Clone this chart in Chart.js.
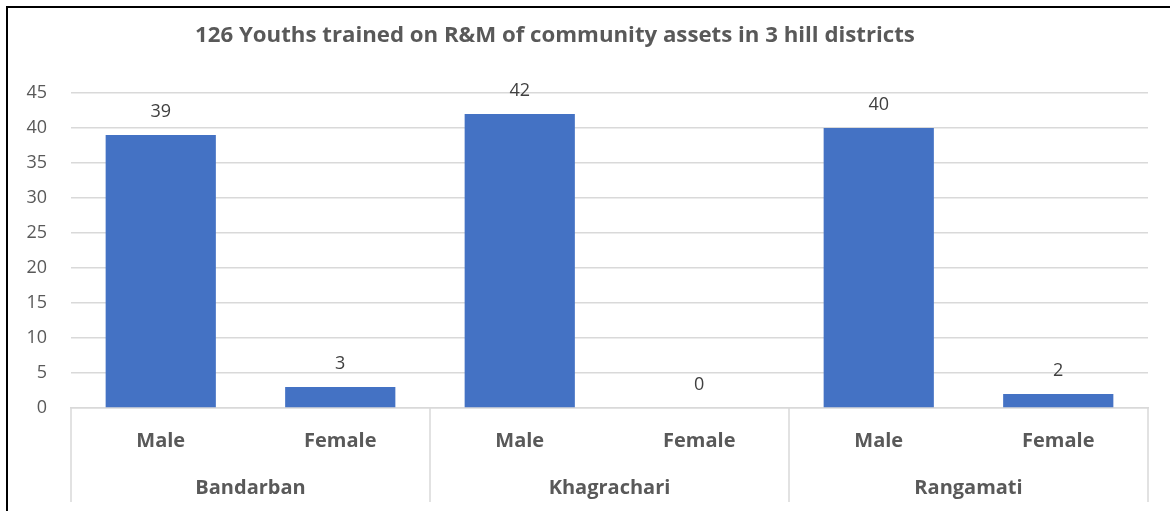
<!DOCTYPE html>
<html>
<head>
<meta charset="utf-8">
<script src="https://cdn.jsdelivr.net/npm/chart.js@4/dist/chart.umd.min.js"></script>
<style>
  html, body { margin: 0; padding: 0; background: #fff; }
  #wrap { position: relative; width: 1170px; height: 511px; overflow: hidden; }
  #frame { position: absolute; left: 6px; top: 6px; width: 1200px; height: 600px;
           border-left: 2px solid #000; border-top: 2px solid #000; pointer-events: none; }
  canvas { position: absolute; left: 0; top: 0; }
</style>
</head>
<body>
<div id="wrap">
  <canvas id="c" width="1170" height="511"></canvas>
  <div id="frame"></div>
</div>
<script>
const titleText = "126 Youths trained on R&M of community assets in 3 hill districts";
const genders = ["Male", "Female", "Male", "Female", "Male", "Female"];
const districts = ["Bandarban", "Khagrachari", "Rangamati"];
const trained = [39, 3, 42, 0, 40, 2];
const yTicks = [0, 5, 10, 15, 20, 25, 30, 35, 40, 45];

const FONT = "'Open Sans', 'Noto Sans', sans-serif";
const GREY = "#595959";
const GRID = "#d9d9d9";

const titlePlugin = {
  id: 'customTitle',
  afterDraw(chart) {
    const ctx = chart.ctx;
    ctx.save();
    let size = 20;
    ctx.font = "bold " + size + "px " + FONT;
    const w = ctx.measureText(titleText).width;
    size = Math.max(14, Math.min(24, size * 720 / w));
    ctx.font = "bold " + size.toFixed(2) + "px " + FONT;
    ctx.fillStyle = GREY;
    ctx.textAlign = "center";
    ctx.textBaseline = "alphabetic";
    ctx.fillText(titleText, 555, 42);
    ctx.restore();
  }
};

const valueLabels = {
  id: 'valueLabels',
  afterDatasetsDraw(chart) {
    const ctx = chart.ctx;
    const meta = chart.getDatasetMeta(0);
    ctx.save();
    ctx.font = "18px " + FONT;
    ctx.fillStyle = "#404040";
    ctx.textAlign = "center";
    ctx.textBaseline = "alphabetic";
    meta.data.forEach((bar, i) => {
      ctx.fillText(String(chart.data.datasets[0].data[i]), bar.x, bar.y - 18);
    });
    ctx.restore();
  }
};

const separators = {
  id: 'separators',
  afterDraw(chart) {
    const x = chart.scales.x;
    const ctx = chart.ctx;
    const half = (x.getPixelForTick(1) - x.getPixelForTick(0)) / 2;
    const n = genders.length;
    ctx.save();
    ctx.strokeStyle = GRID;
    ctx.lineWidth = 1.5;
    for (let i = 0; i <= n; i += 2) {
      const px = i < n ? x.getPixelForTick(i) - half : x.getPixelForTick(n - 1) + half;
      ctx.beginPath();
      ctx.moveTo(px, chart.chartArea.bottom);
      ctx.lineTo(px, 502);
      ctx.stroke();
    }
    ctx.restore();
  }
};

new Chart(document.getElementById('c'), {
  type: 'bar',
  data: {
    labels: genders,
    datasets: [{
      data: trained,
      backgroundColor: "#4472C4",
      borderWidth: 0,
      barPercentage: 0.614,
      categoryPercentage: 1.0
    }]
  },
  options: {
    responsive: false,
    animation: false,
    devicePixelRatio: 1,
    layout: { padding: { top: 93, right: 22, bottom: 0, left: 0 } },
    plugins: { legend: { display: false }, title: { display: false }, tooltip: { enabled: false } },
    scales: {
      y: {
        min: 0, max: 45,
        afterFit(s) { s.width = 71; },
        afterBuildTicks(s) { s.ticks = yTicks.map(v => ({ value: v })); },
        grid: { color: GRID, lineWidth: 1.5, drawTicks: false },
        border: { display: false },
        ticks: { font: { family: FONT, size: 18 }, color: GREY, padding: 24 }
      },
      x: {
        type: 'category',
        position: 'bottom',
        offset: true,
        afterFit(s) { s.height = 45; },
        grid: { display: false },
        border: { display: true, color: GRID, width: 1.5 },
        ticks: { font: { family: FONT, size: 20, weight: 'bold' }, color: GREY, padding: 13, maxRotation: 0, autoSkip: false }
      },
      x2: {
        type: 'category',
        position: 'bottom',
        labels: districts,
        offset: true,
        afterFit(s) { s.height = 58; },
        grid: { display: false },
        border: { display: false },
        ticks: { font: { family: FONT, size: 20, weight: 'bold' }, color: GREY, padding: 15, maxRotation: 0, autoSkip: false }
      }
    }
  },
  plugins: [titlePlugin, valueLabels, separators]
});
</script>
</body>
</html>
